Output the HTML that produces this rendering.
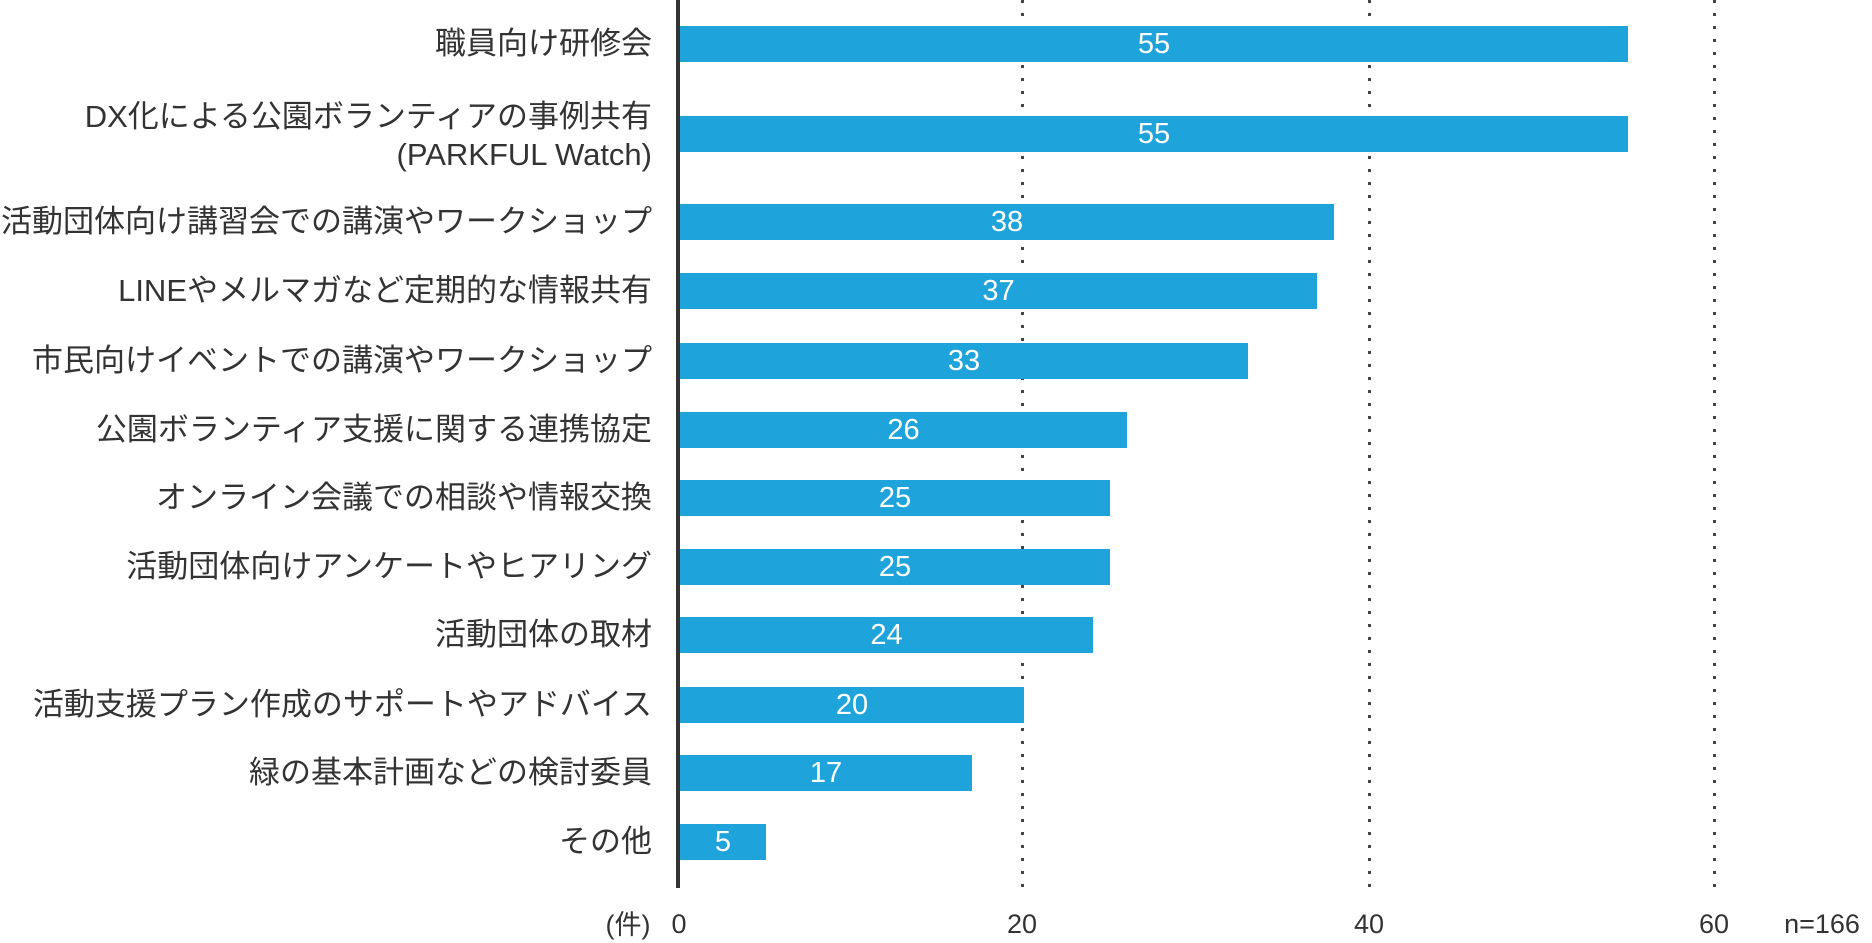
<!DOCTYPE html>
<html><head><meta charset="utf-8"><style>
body{margin:0;width:1872px;height:943px;background:#fff;position:relative;overflow:hidden;font-family:"Liberation Sans","Noto Sans CJK JP",sans-serif;color:#333}
.l{position:absolute;right:1220px;font-size:31px;text-align:right;white-space:nowrap;line-height:38px}
.b{position:absolute;left:680px;height:36px;background:#1fa3db;color:#fff;font-size:29px;text-align:center;line-height:36px}
.g{position:absolute;top:0;height:888px;width:3px;background:repeating-linear-gradient(to bottom,#444 0 3px,transparent 3px 13px)}
.t{position:absolute;top:908px;font-size:27px;transform:translateX(-50%);line-height:32px}
</style></head><body>
<div class="g" style="left:1021px"></div>
<div class="g" style="left:1368px"></div>
<div class="g" style="left:1713px"></div>
<div style="position:absolute;left:676px;top:0;width:4px;height:888px;background:#333"></div>

<div class="b" style="top:26px;width:948px">55</div>
<div class="b" style="top:116px;width:948px">55</div>
<div class="b" style="top:204px;width:654px">38</div>
<div class="b" style="top:273px;width:637px">37</div>
<div class="b" style="top:343px;width:568px">33</div>
<div class="b" style="top:412px;width:447px">26</div>
<div class="b" style="top:480px;width:430px">25</div>
<div class="b" style="top:549px;width:430px">25</div>
<div class="b" style="top:617px;width:413px">24</div>
<div class="b" style="top:687px;width:344px">20</div>
<div class="b" style="top:755px;width:292px">17</div>
<div class="b" style="top:824px;width:86px">5</div>

<div class="l" style="top:25px">職員向け研修会</div>
<div class="l" style="top:98px">DX化による公園ボランティアの事例共有<br>(PARKFUL Watch)</div>
<div class="l" style="top:203px">活動団体向け講習会での講演やワークショップ</div>
<div class="l" style="top:272px">LINEやメルマガなど定期的な情報共有</div>
<div class="l" style="top:342px">市民向けイベントでの講演やワークショップ</div>
<div class="l" style="top:411px">公園ボランティア支援に関する連携協定</div>
<div class="l" style="top:479px">オンライン会議での相談や情報交換</div>
<div class="l" style="top:548px">活動団体向けアンケートやヒアリング</div>
<div class="l" style="top:616px">活動団体の取材</div>
<div class="l" style="top:686px">活動支援プラン作成のサポートやアドバイス</div>
<div class="l" style="top:754px">緑の基本計画などの検討委員</div>
<div class="l" style="top:823px">その他</div>

<div class="t" style="left:628px;top:909px">(件)</div>
<div class="t" style="left:679px">0</div>
<div class="t" style="left:1022px">20</div>
<div class="t" style="left:1369px">40</div>
<div class="t" style="left:1714px">60</div>
<div class="t" style="left:1822px">n=166</div>
</body></html>
